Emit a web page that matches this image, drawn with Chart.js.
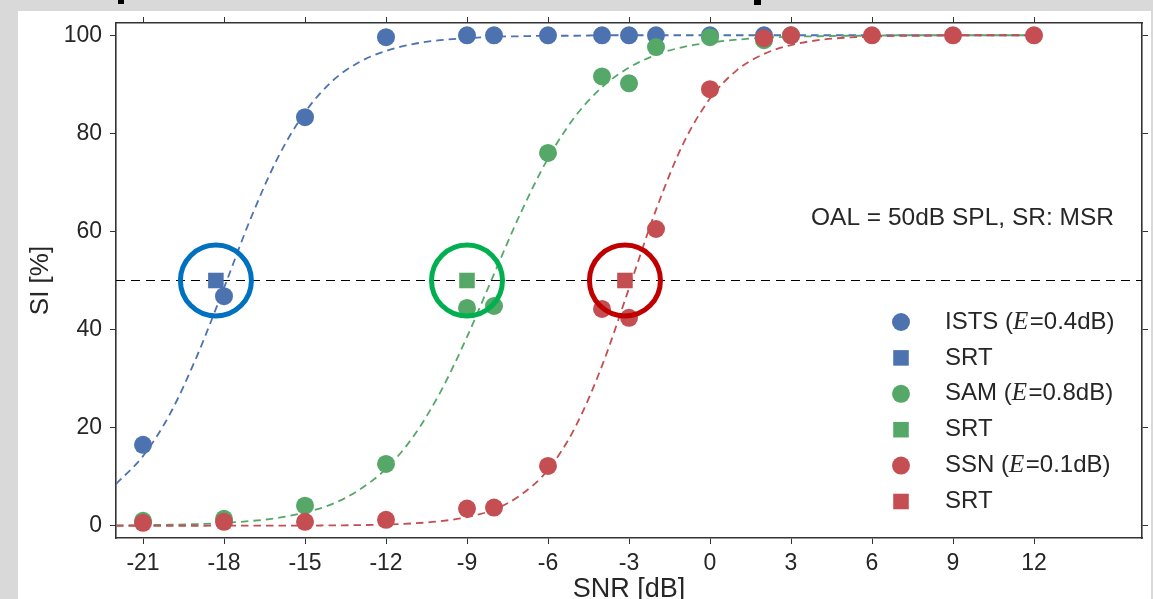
<!DOCTYPE html>
<html>
<head>
<meta charset="utf-8">
<script src="https://cdn.jsdelivr.net/npm/chart.js@4.4.1/dist/chart.umd.min.js"></script>
<style>
  html, body { margin: 0; padding: 0; background: #d9d9d9; }
  #wrap { width: 1153px; height: 599px; position: relative; }
  canvas { display: block; }
</style>
</head>
<body>
<div id="wrap"><canvas id="c" width="1153" height="599"></canvas></div>
<script>
// ---- axis ticks ----
const snrTicks = [-21, -18, -15, -12, -9, -6, -3, 0, 3, 6, 9, 12];
const siTicks = [0, 20, 40, 60, 80, 100];

// ---- measured speech intelligibility (%) per SNR (dB) ----
const istsSnr = [-21, -18, -15, -12, -9, -8, -6, -4, -3, -2, 0, 2];
const istsSi  = [16.5, 46.8, 83.3, 99.6, 100, 100, 100, 100, 100, 100, 100, 100];
const samSnr  = [-21, -18, -15, -12, -9, -8, -6, -4, -3, -2, 0, 2, 3];
const samSi   = [1.0, 1.4, 4.1, 12.6, 44.4, 44.8, 76.0, 91.6, 90.2, 97.6, 99.6, 99.0, 100];
const ssnSnr  = [-21, -18, -15, -12, -9, -8, -6, -4, -3, -2, 0, 2, 3, 6, 9, 12];
const ssnSi   = [0.6, 0.8, 0.8, 1.2, 3.5, 3.7, 12.2, 44.2, 42.4, 60.5, 89.0, 99.4, 100, 100, 100, 100];

// ---- speech reception thresholds (SNR at 50 % SI) ----
const srtSnr = [-18.3, -9.0, -3.15];
const srtSi  = [50, 50, 50];

// ---- fitted psychometric curves, sampled every 1 dB from -22 to 12 ----
const fitSnr = [-22, -21, -20, -19, -18, -17, -16, -15, -14, -13, -12, -11, -10, -9, -8, -7, -6, -5,
                -4, -3, -2, -1, 0, 1, 2, 3, 4, 5, 6, 7, 8, 9, 10, 11, 12];
const istsFit = [8.5, 14.2, 22.8, 34.6, 48.5, 62.8, 75.1, 84.3, 90.6, 94.5, 96.8, 98.2, 99.0, 99.4, 99.7, 99.8, 99.9, 99.9,
                 100, 100, 100, 100, 100, 100, 100, 100, 100, 100, 100, 100, 100, 100, 100, 100, 100];
const samFit  = [0.07, 0.12, 0.21, 0.34, 0.58, 0.97, 1.6, 2.7, 4.4, 7.3, 11.6, 18.1, 27.1, 38.5, 51.3, 63.9, 74.9, 83.4,
                 89.4, 93.4, 96.0, 97.6, 98.5, 99.1, 99.5, 99.7, 99.8, 99.9, 99.9, 100, 100, 100, 100, 100, 100];
const ssnFit  = [0, 0, 0, 0, 0.01, 0.01, 0.02, 0.03, 0.07, 0.13, 0.25, 0.48, 0.91, 1.75, 3.3, 6.3, 11.4, 20.0,
                 32.6, 48.4, 64.4, 77.8, 87.1, 92.9, 96.2, 98.0, 99.0, 99.5, 99.7, 99.9, 99.9, 100, 100, 100, 100];

// ---- labels ----
const seriesNames = ['ISTS', 'SAM', 'SSN'];
const fitErrors = ['0.4', '0.8', '0.1'];
const srtLabel = 'SRT';
const conditionText = 'OAL = 50dB SPL, SR: MSR';
const xTitle = 'SNR [dB]';
const yTitle = 'SI [%]';
const halfLevel = 50;

// ---- styling ----
const seriesColors = ['#4c72b0', '#55a868', '#c44e52'];
const ringColors = ['#0070c0', '#00b050', '#c00000'];
const textColor = '#262626';
const axisColor = '#333333';
const FONT = "'Liberation Sans', Arial, sans-serif";

const xy = (xs, ys) => xs.map((x, i) => ({ x: x, y: ys[i] }));
const measured = [xy(istsSnr, istsSi), xy(samSnr, samSi), xy(ssnSnr, ssnSi)];
const fits = [xy(fitSnr, istsFit), xy(fitSnr, samFit), xy(fitSnr, ssnFit)];

const X_MIN = -22, X_MAX = 16, Y_MIN = -2.5, Y_MAX = 102.5;

const datasets = [];
// highlight rings around each SRT
datasets.push({
  label: 'rings',
  data: xy(srtSnr, srtSi),
  pointStyle: 'circle',
  pointRadius: 35.5,
  pointBorderWidth: 5,
  pointBorderColor: ringColors,
  pointBackgroundColor: 'rgba(0,0,0,0)',
  showLine: false,
  order: 0
});
for (let i = 0; i < 3; i++) {
  const rank = 2 - i;
  datasets.push({
    label: srtLabel + ' ' + seriesNames[i],
    data: [{ x: srtSnr[i], y: srtSi[i] }],
    pointStyle: 'rect',
    pointRadius: 11,
    pointBorderWidth: 0,
    pointBackgroundColor: seriesColors[i],
    showLine: false,
    order: 1 + 2 * rank
  });
  datasets.push({
    label: seriesNames[i],
    data: measured[i],
    pointStyle: 'circle',
    pointRadius: 9,
    pointBorderWidth: 0,
    pointBackgroundColor: seriesColors[i],
    showLine: false,
    order: 2 + 2 * rank
  });
  datasets.push({
    label: seriesNames[i] + ' fit',
    data: fits[i],
    showLine: true,
    pointRadius: 0,
    borderColor: seriesColors[i],
    borderWidth: 1.8,
    borderDash: [7.5, 5],
    cubicInterpolationMode: 'monotone',
    fill: false,
    order: 8 + rank
  });
}
// 50 % reference line
datasets.push({
  label: 'half',
  data: [{ x: X_MIN, y: halfLevel }, { x: X_MAX, y: halfLevel }],
  showLine: true,
  pointRadius: 0,
  borderColor: '#000000',
  borderWidth: 1,
  borderDash: [9, 6],
  order: 7
});

function setTicks(values) {
  return function (scale) { scale.ticks = values.map(v => ({ value: v })); };
}

const frame = {
  id: 'frame',
  beforeDraw(chart) {
    const ctx = chart.ctx;
    ctx.save();
    ctx.fillStyle = '#d9d9d9';
    ctx.fillRect(0, 0, chart.width, chart.height);
    ctx.fillStyle = '#ffffff';
    ctx.fillRect(18, 11, 1133, 588);
    // remnants of the heading above the panel
    ctx.fillStyle = '#000000';
    ctx.fillRect(118, 0, 6, 4);
    ctx.fillRect(754, 0, 7, 5);
    ctx.restore();
  },
  afterDraw(chart) {
    const ctx = chart.ctx;
    ctx.save();
    // condition annotation
    ctx.fillStyle = textColor;
    ctx.font = '24.5px ' + FONT;
    ctx.textAlign = 'right';
    ctx.textBaseline = 'middle';
    ctx.fillText(conditionText, 1114, 218);

    // legend
    const mx = 901, tx = 945, y0 = 322, dy = 35.9;
    ctx.textAlign = 'left';
    for (let i = 0; i < 3; i++) {
      const yc = y0 + dy * 2 * i;
      const ys = yc + dy;
      ctx.fillStyle = seriesColors[i];
      Chart.helpers.drawPoint(ctx, { pointStyle: 'circle', radius: 9, rotation: 0, borderWidth: 0 }, mx, yc);
      Chart.helpers.drawPoint(ctx, { pointStyle: 'rect', radius: 11, rotation: 0, borderWidth: 0 }, mx, ys);
      ctx.fillStyle = textColor;
      const parts = [
        { t: seriesNames[i] + ' (', f: '24px ' + FONT },
        { t: 'E', f: "italic 25px 'Liberation Serif', 'DejaVu Serif', serif" },
        { t: '=' + fitErrors[i] + 'dB)', f: '24px ' + FONT }
      ];
      let x = tx;
      for (const p of parts) {
        ctx.font = p.f;
        ctx.fillText(p.t, x, yc);
        x += ctx.measureText(p.t).width + (p.t === 'E' ? 1.5 : 0);
      }
      ctx.font = '24px ' + FONT;
      ctx.fillText(srtLabel, tx, ys);
    }
    ctx.restore();
  }
};

const gridOpts = { display: true, drawOnChartArea: false, drawTicks: true, tickLength: 6, tickColor: axisColor, lineWidth: 1 };
const borderOpts = { display: true, color: axisColor, width: 1.6 };

new Chart(document.getElementById('c'), {
  type: 'scatter',
  data: { datasets: datasets },
  options: {
    responsive: false,
    animation: false,
    events: [],
    layout: { padding: 0, autoPadding: false },
    plugins: { legend: { display: false }, tooltip: { enabled: false } },
    scales: {
      x: {
        type: 'linear', position: 'bottom', min: X_MIN, max: X_MAX,
        afterBuildTicks: setTicks(snrTicks),
        afterFit(s) { s.height = 61; },
        grid: gridOpts, border: borderOpts,
        ticks: { color: textColor, font: { family: FONT, size: 23 }, padding: 6, maxRotation: 0, autoSkip: false },
        title: { display: true, text: xTitle, color: textColor, font: { family: FONT, size: 27, lineHeight: 1 }, padding: { top: 0, bottom: -4.5 } }
      },
      xTop: {
        type: 'linear', position: 'top', min: X_MIN, max: X_MAX,
        afterBuildTicks: setTicks(snrTicks),
        afterFit(s) { s.height = 23; },
        grid: gridOpts, border: borderOpts,
        ticks: { display: false }
      },
      y: {
        type: 'linear', position: 'left', min: Y_MIN, max: Y_MAX,
        afterBuildTicks: setTicks(siTicks),
        afterFit(s) { s.width = 116; },
        grid: gridOpts, border: borderOpts,
        ticks: { color: textColor, font: { family: FONT, size: 23 }, padding: 8, autoSkip: false },
        title: { display: true, text: yTitle, color: textColor, font: { family: FONT, size: 26, lineHeight: 1 }, padding: { top: 28, bottom: 0 } }
      },
      yRight: {
        type: 'linear', position: 'right', min: Y_MIN, max: Y_MAX,
        afterBuildTicks: setTicks(siTicks),
        afterFit(s) { s.width = 11; },
        grid: gridOpts, border: borderOpts,
        ticks: { display: false }
      }
    }
  },
  plugins: [frame]
});
</script>
</body>
</html>
